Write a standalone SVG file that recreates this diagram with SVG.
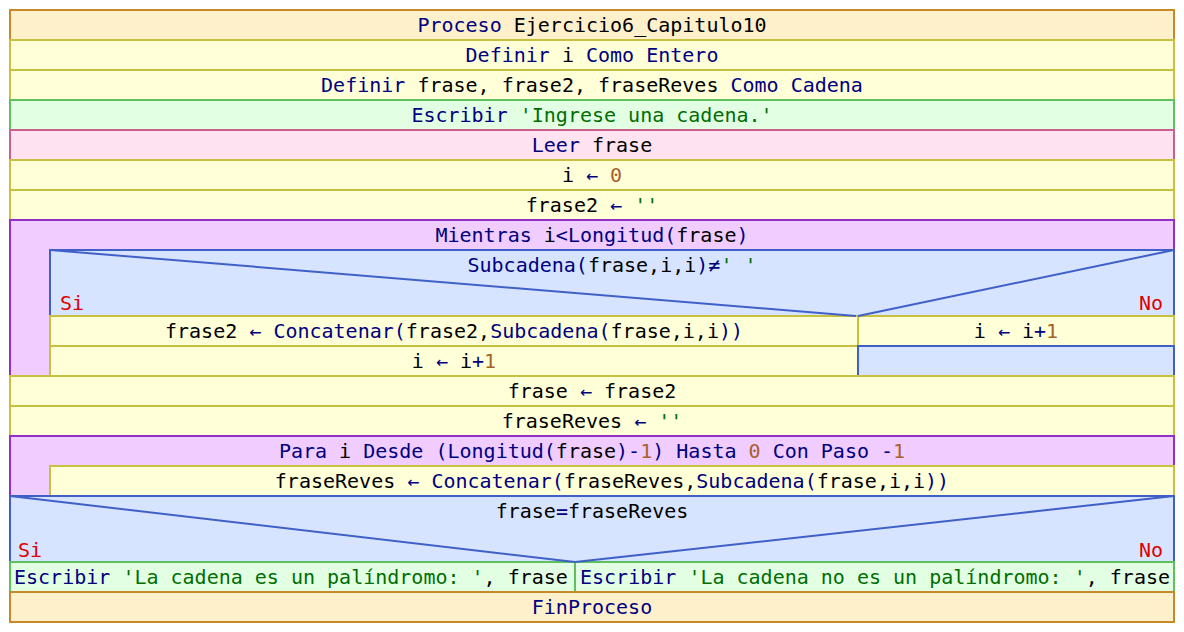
<svg xmlns="http://www.w3.org/2000/svg" width="1184" height="632" viewBox="0 0 1184 632">
<style>
text{font-family:"DejaVu Sans Mono","Liberation Mono",monospace;font-size:20px;fill:#000;white-space:pre}
.c{text-anchor:middle}
.k{fill:#000080}
.s{fill:#006e00}
.n{fill:#a8602c}
.lbl{fill:#e00000}
.proc{fill:#fff0cc;stroke:#c88a28;stroke-width:2}
.asg{fill:#ffffd8;stroke:#c8c040;stroke-width:2}
.out{fill:#e3ffe3;stroke:#60c060;stroke-width:2}
.inp{fill:#ffe3f0;stroke:#c86090;stroke-width:2}
.loop{fill:#f0ccff;stroke:#9030c8;stroke-width:2}
.cond{fill:#d6e4ff;stroke:#4060c8;stroke-width:2}
.diag{fill:none;stroke:#4060c8;stroke-width:2}
</style>
<g id="n_proceso"><rect class="proc" x="10" y="10" width="1164" height="30"/><text class="c" x="592" y="32"><tspan class="k">Proceso </tspan>Ejercicio6_Capitulo10</text></g>
<g id="n_def1"><rect class="asg" x="10" y="40" width="1164" height="30"/><text class="c" x="592" y="62"><tspan class="k">Definir </tspan>i<tspan class="k"> Como Entero</tspan></text></g>
<g id="n_def2"><rect class="asg" x="10" y="70" width="1164" height="30"/><text class="c" x="592" y="92"><tspan class="k">Definir </tspan>frase, frase2, fraseReves<tspan class="k"> Como Cadena</tspan></text></g>
<g id="n_esc1"><rect class="out" x="10" y="100" width="1164" height="30"/><text class="c" x="592" y="122"><tspan class="k">Escribir </tspan><tspan class="s">'Ingrese una cadena.'</tspan></text></g>
<g id="n_leer"><rect class="inp" x="10" y="130" width="1164" height="30"/><text class="c" x="592" y="152"><tspan class="k">Leer </tspan>frase</text></g>
<g id="n_i0"><rect class="asg" x="10" y="160" width="1164" height="30"/><text class="c" x="592" y="182">i <tspan class="k">←</tspan> <tspan class="n">0</tspan></text></g>
<g id="n_f2"><rect class="asg" x="10" y="190" width="1164" height="30"/><text class="c" x="592" y="212">frase2 <tspan class="k">←</tspan> <tspan class="s">''</tspan></text></g>
<g id="n_mientras"><path class="loop" d="M10,220 H1174 V250 H50 V376 H10 Z"/><text class="c" x="592" y="242"><tspan class="k">Mientras </tspan>i<tspan class="k">&lt;Longitud(</tspan>frase<tspan class="k">)</tspan></text></g>
<g id="n_si1"><rect class="cond" x="50" y="250" width="1124" height="126"/><text class="c" x="612" y="272"><tspan class="k">Subcadena(</tspan>frase,i,i<tspan class="k">)≠</tspan><tspan class="s">' '</tspan></text><text class="lbl" x="60" y="310">Si</text><text class="lbl" x="1163" y="310" style="text-anchor:end">No</text></g>
<g id="n_concat"><rect class="asg" x="50" y="316" width="808" height="30"/><text class="c" x="454" y="338">frase2 <tspan class="k">←</tspan> <tspan class="k">Concatenar(</tspan>frase2,<tspan class="k">Subcadena(</tspan>frase,i,i<tspan class="k">))</tspan></text></g>
<g id="n_inc1"><rect class="asg" x="50" y="346" width="808" height="30"/><text class="c" x="454" y="368">i <tspan class="k">←</tspan> i<tspan class="k">+</tspan><tspan class="n">1</tspan></text></g>
<g id="n_inc2"><rect class="asg" x="858" y="316" width="316" height="30"/><text class="c" x="1016" y="338">i <tspan class="k">←</tspan> i<tspan class="k">+</tspan><tspan class="n">1</tspan></text></g>
<g id="n_empty"><rect class="cond" x="858" y="346" width="316" height="30"/></g>
<g id="n_frase"><rect class="asg" x="10" y="376" width="1164" height="30"/><text class="c" x="592" y="398">frase <tspan class="k">←</tspan> frase2</text></g>
<g id="n_rev0"><rect class="asg" x="10" y="406" width="1164" height="30"/><text class="c" x="592" y="428">fraseReves <tspan class="k">←</tspan> <tspan class="s">''</tspan></text></g>
<g id="n_para"><path class="loop" d="M10,436 H1174 V466 H50 V496 H10 Z"/><text class="c" x="592" y="458"><tspan class="k">Para </tspan>i<tspan class="k"> Desde (Longitud(</tspan>frase<tspan class="k">)-</tspan><tspan class="n">1</tspan><tspan class="k">) Hasta </tspan><tspan class="n">0</tspan><tspan class="k"> Con Paso -</tspan><tspan class="n">1</tspan></text></g>
<g id="n_revcat"><rect class="asg" x="50" y="466" width="1124" height="30"/><text class="c" x="612" y="488">fraseReves <tspan class="k">←</tspan> <tspan class="k">Concatenar(</tspan>fraseReves,<tspan class="k">Subcadena(</tspan>frase,i,i<tspan class="k">))</tspan></text></g>
<g id="n_si2"><rect class="cond" x="10" y="496" width="1164" height="66"/><text class="c" x="592" y="518">frase<tspan class="k">=</tspan>fraseReves</text><text class="lbl" x="18" y="557">Si</text><text class="lbl" x="1163" y="557" style="text-anchor:end">No</text></g>
<g id="n_esc2"><rect class="out" x="10" y="562" width="565" height="30"/><text x="14" y="584"><tspan class="k">Escribir </tspan><tspan class="s">'La cadena es un palíndromo: '</tspan>, frase</text></g>
<g id="n_esc3"><rect class="out" x="575" y="562" width="599" height="30"/><text x="580" y="584"><tspan class="k">Escribir </tspan><tspan class="s">'La cadena no es un palíndromo: '</tspan>, frase</text></g>
<g id="n_fin"><rect class="proc" x="10" y="592" width="1164" height="30"/><text class="c" x="592" y="614"><tspan class="k">FinProceso</tspan></text></g>
<g id="connectors">
<path class="diag" d="M50,250 L856,316 M1174,250 L858,316"/>
<path class="diag" d="M10,496 L575,562 M1174,496 L575,562"/>
</g>
</svg>
